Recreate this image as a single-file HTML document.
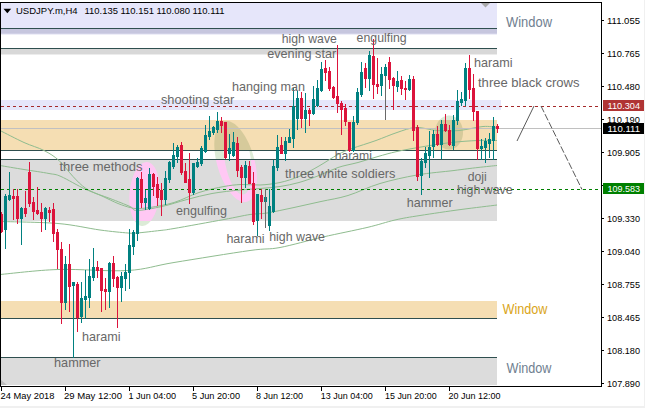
<!DOCTYPE html>
<html><head><meta charset="utf-8"><style>html,body{margin:0;padding:0;background:#fff;}svg{display:block;}</style></head>
<body><svg width="645" height="408" viewBox="0 0 645 408">
<rect x="0" y="0" width="645" height="408" fill="#ffffff"/>
<rect x="644" y="0" width="1" height="408" fill="#f0f0f0"/>
<rect x="0" y="406" width="645" height="2" fill="#f0f0f0"/>
<rect x="1" y="3" width="496" height="25" fill="#e6e6fa" />
<rect x="1" y="28" width="496" height="1" fill="#2f4f4f" />
<rect x="1" y="29" width="496" height="4" fill="#c6c6de" />
<rect x="1" y="33" width="496" height="1" fill="#d0d0e6" />
<rect x="1" y="34" width="496" height="1" fill="#eeeef8" />
<rect x="1" y="48" width="496" height="1" fill="#2f4f4f" />
<rect x="1" y="49" width="496" height="5" fill="#d8d8d8" />
<rect x="1" y="54" width="496" height="1" fill="#ececec" />
<rect x="1" y="100" width="500" height="10" fill="#e6e6fa" />
<rect x="1" y="120" width="496" height="30" fill="#f5deb3" />
<rect x="1" y="150" width="496" height="1" fill="#2f4f4f" />
<rect x="1" y="159" width="496" height="1" fill="#2f4f4f" />
<rect x="1" y="160" width="496" height="61" fill="#dcdcdc" />
<rect x="1" y="301" width="496" height="17" fill="#f5deb3" />
<rect x="1" y="318" width="496" height="1" fill="#2f4f4f" />
<rect x="1" y="357" width="496" height="1" fill="#2f4f4f" />
<rect x="1" y="358" width="496" height="27" fill="#dcdcdc" />
<polygon points="481,3 490,3 485.5,7.5" fill="#a9a9a9"/>
<polygon points="1,380 1,385 7,385" fill="#bdbdbd"/>
<defs><clipPath id="cw"><rect x="1" y="110" width="496" height="10"/><rect x="1" y="151" width="496" height="8"/><rect x="1" y="221" width="496" height="80"/></clipPath><clipPath id="ct"><rect x="1" y="120" width="496" height="30"/></clipPath><clipPath id="cg"><rect x="1" y="160" width="496" height="61"/></clipPath></defs>
<path clip-path="url(#cw)" d="M159.44,195.31 L159.23,197.39 L158.95,199.46 L158.61,201.50 L158.21,203.51 L157.75,205.48 L157.24,207.41 L156.67,209.27 L156.05,211.07 L155.38,212.80 L154.66,214.44 L153.90,216.00 L153.09,217.47 L152.26,218.83 L151.38,220.09 L150.48,221.23 L149.56,222.26 L148.61,223.17 L147.64,223.95 L146.66,224.61 L145.67,225.13 L144.68,225.52 L143.69,225.78 L142.69,225.90 L141.71,225.88 L140.74,225.72 L139.78,225.43 L138.85,225.01 L137.94,224.45 L137.06,223.77 L136.20,222.95 L135.39,222.01 L134.61,220.95 L133.88,219.78 L133.19,218.49 L132.55,217.11 L131.96,215.62 L131.43,214.04 L130.95,212.37 L130.53,210.62 L130.16,208.81 L129.86,206.93 L129.63,204.99 L129.45,203.01 L129.34,200.99 L129.30,198.94 L129.32,196.86 L129.41,194.78 L129.56,192.69 L129.77,190.61 L130.05,188.54 L130.39,186.50 L130.79,184.49 L131.25,182.52 L131.76,180.59 L132.33,178.73 L132.95,176.93 L133.62,175.20 L134.34,173.56 L135.10,172.00 L135.91,170.53 L136.74,169.17 L137.62,167.91 L138.52,166.77 L139.44,165.74 L140.39,164.83 L141.36,164.05 L142.34,163.39 L143.33,162.87 L144.32,162.48 L145.31,162.22 L146.31,162.10 L147.29,162.12 L148.26,162.28 L149.22,162.57 L150.15,162.99 L151.06,163.55 L151.94,164.23 L152.80,165.05 L153.61,165.99 L154.39,167.05 L155.12,168.22 L155.81,169.51 L156.45,170.89 L157.04,172.38 L157.57,173.96 L158.05,175.63 L158.47,177.38 L158.84,179.19 L159.14,181.07 L159.37,183.01 L159.55,184.99 L159.66,187.01 L159.70,189.06 L159.68,191.14 L159.59,193.22 Z" fill="#dcebd7" fill-rule="evenodd"/>
<path clip-path="url(#cw)" d="M253.59,156.41 L254.30,159.05 L254.93,161.70 L255.47,164.35 L255.93,166.99 L256.30,169.61 L256.58,172.19 L256.77,174.72 L256.87,177.20 L256.88,179.61 L256.80,181.95 L256.63,184.19 L256.37,186.34 L256.02,188.38 L255.58,190.31 L255.06,192.11 L254.45,193.79 L253.77,195.32 L253.00,196.71 L252.16,197.95 L251.25,199.03 L250.27,199.95 L249.23,200.71 L248.13,201.30 L246.98,201.72 L245.78,201.97 L244.54,202.04 L243.25,201.94 L241.94,201.67 L240.59,201.22 L239.23,200.61 L237.85,199.82 L236.46,198.88 L235.07,197.77 L233.68,196.51 L232.29,195.10 L230.92,193.54 L229.58,191.85 L228.25,190.02 L226.96,188.08 L225.71,186.02 L224.50,183.86 L223.33,181.60 L222.22,179.25 L221.17,176.83 L220.17,174.34 L219.25,171.80 L218.39,169.21 L217.61,166.59 L216.90,163.95 L216.27,161.30 L215.73,158.65 L215.27,156.01 L214.90,153.39 L214.62,150.81 L214.43,148.28 L214.33,145.80 L214.32,143.39 L214.40,141.05 L214.57,138.81 L214.83,136.66 L215.18,134.62 L215.62,132.69 L216.14,130.89 L216.75,129.21 L217.43,127.68 L218.20,126.29 L219.04,125.05 L219.95,123.97 L220.93,123.05 L221.97,122.29 L223.07,121.70 L224.22,121.28 L225.42,121.03 L226.66,120.96 L227.95,121.06 L229.26,121.33 L230.61,121.78 L231.97,122.39 L233.35,123.18 L234.74,124.12 L236.13,125.23 L237.52,126.49 L238.91,127.90 L240.28,129.46 L241.62,131.15 L242.95,132.98 L244.24,134.92 L245.49,136.98 L246.70,139.14 L247.87,141.40 L248.98,143.75 L250.03,146.17 L251.03,148.66 L251.95,151.20 L252.81,153.79 Z M250.34,155.97 L250.69,158.36 L250.99,160.75 L251.22,163.13 L251.40,165.49 L251.52,167.82 L251.58,170.11 L251.58,172.34 L251.51,174.51 L251.39,176.61 L251.21,178.63 L250.97,180.57 L250.67,182.40 L250.32,184.13 L249.91,185.75 L249.45,187.26 L248.93,188.63 L248.37,189.88 L247.76,190.98 L247.11,191.95 L246.41,192.77 L245.68,193.45 L244.91,193.97 L244.12,194.33 L243.29,194.54 L242.44,194.60 L241.56,194.50 L240.67,194.24 L239.77,193.83 L238.85,193.26 L237.93,192.54 L237.01,191.68 L236.09,190.67 L235.18,189.52 L234.28,188.23 L233.39,186.82 L232.51,185.28 L231.66,183.62 L230.84,181.86 L230.04,179.99 L229.27,178.03 L228.54,175.99 L227.85,173.86 L227.20,171.67 L226.60,169.42 L226.04,167.12 L225.53,164.79 L225.07,162.42 L224.66,160.03 L224.31,157.64 L224.01,155.25 L223.78,152.87 L223.60,150.51 L223.48,148.18 L223.42,145.89 L223.42,143.66 L223.49,141.49 L223.61,139.39 L223.79,137.37 L224.03,135.43 L224.33,133.60 L224.68,131.87 L225.09,130.25 L225.55,128.74 L226.07,127.37 L226.63,126.12 L227.24,125.02 L227.89,124.05 L228.59,123.23 L229.32,122.55 L230.09,122.03 L230.88,121.67 L231.71,121.46 L232.56,121.40 L233.44,121.50 L234.33,121.76 L235.23,122.17 L236.15,122.74 L237.07,123.46 L237.99,124.32 L238.91,125.33 L239.82,126.48 L240.72,127.77 L241.61,129.18 L242.49,130.72 L243.34,132.38 L244.16,134.14 L244.96,136.01 L245.73,137.97 L246.46,140.01 L247.15,142.14 L247.80,144.33 L248.40,146.58 L248.96,148.88 L249.47,151.21 L249.93,153.58 Z" fill="#dcebd7" fill-rule="evenodd"/>
<path clip-path="url(#cw)" d="M463.00,132.50 L462.97,133.61 L462.88,134.72 L462.73,135.82 L462.52,136.90 L462.26,137.96 L461.93,139.01 L461.56,140.02 L461.12,141.00 L460.64,141.94 L460.11,142.85 L459.53,143.71 L458.90,144.52 L458.23,145.28 L457.52,145.99 L456.78,146.63 L456.00,147.22 L455.19,147.75 L454.36,148.21 L453.50,148.60 L452.62,148.92 L451.73,149.17 L450.83,149.35 L449.92,149.46 L449.00,149.50 L448.08,149.46 L447.17,149.35 L446.27,149.17 L445.38,148.92 L444.50,148.60 L443.64,148.21 L442.81,147.75 L442.00,147.22 L441.22,146.63 L440.48,145.99 L439.77,145.28 L439.10,144.52 L438.47,143.71 L437.89,142.85 L437.36,141.94 L436.88,141.00 L436.44,140.02 L436.07,139.01 L435.74,137.96 L435.48,136.90 L435.27,135.82 L435.12,134.72 L435.03,133.61 L435.00,132.50 L435.03,131.39 L435.12,130.28 L435.27,129.18 L435.48,128.10 L435.74,127.04 L436.07,125.99 L436.44,124.98 L436.88,124.00 L437.36,123.06 L437.89,122.15 L438.47,121.29 L439.10,120.48 L439.77,119.72 L440.48,119.01 L441.22,118.37 L442.00,117.78 L442.81,117.25 L443.64,116.79 L444.50,116.40 L445.38,116.08 L446.27,115.83 L447.17,115.65 L448.08,115.54 L449.00,115.50 L449.92,115.54 L450.83,115.65 L451.73,115.83 L452.62,116.08 L453.50,116.40 L454.36,116.79 L455.19,117.25 L456.00,117.78 L456.78,118.37 L457.52,119.01 L458.23,119.72 L458.90,120.48 L459.53,121.29 L460.11,122.15 L460.64,123.06 L461.12,124.00 L461.56,124.98 L461.93,125.99 L462.26,127.04 L462.52,128.10 L462.73,129.18 L462.88,130.28 L462.97,131.39 Z" fill="#dcebd7" fill-rule="evenodd"/>
<path clip-path="url(#ct)" d="M159.44,195.31 L159.23,197.39 L158.95,199.46 L158.61,201.50 L158.21,203.51 L157.75,205.48 L157.24,207.41 L156.67,209.27 L156.05,211.07 L155.38,212.80 L154.66,214.44 L153.90,216.00 L153.09,217.47 L152.26,218.83 L151.38,220.09 L150.48,221.23 L149.56,222.26 L148.61,223.17 L147.64,223.95 L146.66,224.61 L145.67,225.13 L144.68,225.52 L143.69,225.78 L142.69,225.90 L141.71,225.88 L140.74,225.72 L139.78,225.43 L138.85,225.01 L137.94,224.45 L137.06,223.77 L136.20,222.95 L135.39,222.01 L134.61,220.95 L133.88,219.78 L133.19,218.49 L132.55,217.11 L131.96,215.62 L131.43,214.04 L130.95,212.37 L130.53,210.62 L130.16,208.81 L129.86,206.93 L129.63,204.99 L129.45,203.01 L129.34,200.99 L129.30,198.94 L129.32,196.86 L129.41,194.78 L129.56,192.69 L129.77,190.61 L130.05,188.54 L130.39,186.50 L130.79,184.49 L131.25,182.52 L131.76,180.59 L132.33,178.73 L132.95,176.93 L133.62,175.20 L134.34,173.56 L135.10,172.00 L135.91,170.53 L136.74,169.17 L137.62,167.91 L138.52,166.77 L139.44,165.74 L140.39,164.83 L141.36,164.05 L142.34,163.39 L143.33,162.87 L144.32,162.48 L145.31,162.22 L146.31,162.10 L147.29,162.12 L148.26,162.28 L149.22,162.57 L150.15,162.99 L151.06,163.55 L151.94,164.23 L152.80,165.05 L153.61,165.99 L154.39,167.05 L155.12,168.22 L155.81,169.51 L156.45,170.89 L157.04,172.38 L157.57,173.96 L158.05,175.63 L158.47,177.38 L158.84,179.19 L159.14,181.07 L159.37,183.01 L159.55,184.99 L159.66,187.01 L159.70,189.06 L159.68,191.14 L159.59,193.22 Z" fill="#d6ca9b" fill-rule="evenodd"/>
<path clip-path="url(#ct)" d="M253.59,156.41 L254.30,159.05 L254.93,161.70 L255.47,164.35 L255.93,166.99 L256.30,169.61 L256.58,172.19 L256.77,174.72 L256.87,177.20 L256.88,179.61 L256.80,181.95 L256.63,184.19 L256.37,186.34 L256.02,188.38 L255.58,190.31 L255.06,192.11 L254.45,193.79 L253.77,195.32 L253.00,196.71 L252.16,197.95 L251.25,199.03 L250.27,199.95 L249.23,200.71 L248.13,201.30 L246.98,201.72 L245.78,201.97 L244.54,202.04 L243.25,201.94 L241.94,201.67 L240.59,201.22 L239.23,200.61 L237.85,199.82 L236.46,198.88 L235.07,197.77 L233.68,196.51 L232.29,195.10 L230.92,193.54 L229.58,191.85 L228.25,190.02 L226.96,188.08 L225.71,186.02 L224.50,183.86 L223.33,181.60 L222.22,179.25 L221.17,176.83 L220.17,174.34 L219.25,171.80 L218.39,169.21 L217.61,166.59 L216.90,163.95 L216.27,161.30 L215.73,158.65 L215.27,156.01 L214.90,153.39 L214.62,150.81 L214.43,148.28 L214.33,145.80 L214.32,143.39 L214.40,141.05 L214.57,138.81 L214.83,136.66 L215.18,134.62 L215.62,132.69 L216.14,130.89 L216.75,129.21 L217.43,127.68 L218.20,126.29 L219.04,125.05 L219.95,123.97 L220.93,123.05 L221.97,122.29 L223.07,121.70 L224.22,121.28 L225.42,121.03 L226.66,120.96 L227.95,121.06 L229.26,121.33 L230.61,121.78 L231.97,122.39 L233.35,123.18 L234.74,124.12 L236.13,125.23 L237.52,126.49 L238.91,127.90 L240.28,129.46 L241.62,131.15 L242.95,132.98 L244.24,134.92 L245.49,136.98 L246.70,139.14 L247.87,141.40 L248.98,143.75 L250.03,146.17 L251.03,148.66 L251.95,151.20 L252.81,153.79 Z" fill="#d6ca9b" fill-rule="evenodd"/>
<path clip-path="url(#ct)" d="M463.00,132.50 L462.97,133.61 L462.88,134.72 L462.73,135.82 L462.52,136.90 L462.26,137.96 L461.93,139.01 L461.56,140.02 L461.12,141.00 L460.64,141.94 L460.11,142.85 L459.53,143.71 L458.90,144.52 L458.23,145.28 L457.52,145.99 L456.78,146.63 L456.00,147.22 L455.19,147.75 L454.36,148.21 L453.50,148.60 L452.62,148.92 L451.73,149.17 L450.83,149.35 L449.92,149.46 L449.00,149.50 L448.08,149.46 L447.17,149.35 L446.27,149.17 L445.38,148.92 L444.50,148.60 L443.64,148.21 L442.81,147.75 L442.00,147.22 L441.22,146.63 L440.48,145.99 L439.77,145.28 L439.10,144.52 L438.47,143.71 L437.89,142.85 L437.36,141.94 L436.88,141.00 L436.44,140.02 L436.07,139.01 L435.74,137.96 L435.48,136.90 L435.27,135.82 L435.12,134.72 L435.03,133.61 L435.00,132.50 L435.03,131.39 L435.12,130.28 L435.27,129.18 L435.48,128.10 L435.74,127.04 L436.07,125.99 L436.44,124.98 L436.88,124.00 L437.36,123.06 L437.89,122.15 L438.47,121.29 L439.10,120.48 L439.77,119.72 L440.48,119.01 L441.22,118.37 L442.00,117.78 L442.81,117.25 L443.64,116.79 L444.50,116.40 L445.38,116.08 L446.27,115.83 L447.17,115.65 L448.08,115.54 L449.00,115.50 L449.92,115.54 L450.83,115.65 L451.73,115.83 L452.62,116.08 L453.50,116.40 L454.36,116.79 L455.19,117.25 L456.00,117.78 L456.78,118.37 L457.52,119.01 L458.23,119.72 L458.90,120.48 L459.53,121.29 L460.11,122.15 L460.64,123.06 L461.12,124.00 L461.56,124.98 L461.93,125.99 L462.26,127.04 L462.52,128.10 L462.73,129.18 L462.88,130.28 L462.97,131.39 Z" fill="#d6ca9b" fill-rule="evenodd"/>
<path clip-path="url(#cg)" d="M159.44,195.31 L159.23,197.39 L158.95,199.46 L158.61,201.50 L158.21,203.51 L157.75,205.48 L157.24,207.41 L156.67,209.27 L156.05,211.07 L155.38,212.80 L154.66,214.44 L153.90,216.00 L153.09,217.47 L152.26,218.83 L151.38,220.09 L150.48,221.23 L149.56,222.26 L148.61,223.17 L147.64,223.95 L146.66,224.61 L145.67,225.13 L144.68,225.52 L143.69,225.78 L142.69,225.90 L141.71,225.88 L140.74,225.72 L139.78,225.43 L138.85,225.01 L137.94,224.45 L137.06,223.77 L136.20,222.95 L135.39,222.01 L134.61,220.95 L133.88,219.78 L133.19,218.49 L132.55,217.11 L131.96,215.62 L131.43,214.04 L130.95,212.37 L130.53,210.62 L130.16,208.81 L129.86,206.93 L129.63,204.99 L129.45,203.01 L129.34,200.99 L129.30,198.94 L129.32,196.86 L129.41,194.78 L129.56,192.69 L129.77,190.61 L130.05,188.54 L130.39,186.50 L130.79,184.49 L131.25,182.52 L131.76,180.59 L132.33,178.73 L132.95,176.93 L133.62,175.20 L134.34,173.56 L135.10,172.00 L135.91,170.53 L136.74,169.17 L137.62,167.91 L138.52,166.77 L139.44,165.74 L140.39,164.83 L141.36,164.05 L142.34,163.39 L143.33,162.87 L144.32,162.48 L145.31,162.22 L146.31,162.10 L147.29,162.12 L148.26,162.28 L149.22,162.57 L150.15,162.99 L151.06,163.55 L151.94,164.23 L152.80,165.05 L153.61,165.99 L154.39,167.05 L155.12,168.22 L155.81,169.51 L156.45,170.89 L157.04,172.38 L157.57,173.96 L158.05,175.63 L158.47,177.38 L158.84,179.19 L159.14,181.07 L159.37,183.01 L159.55,184.99 L159.66,187.01 L159.70,189.06 L159.68,191.14 L159.59,193.22 Z" fill="#ffc8f4" fill-rule="evenodd"/>
<path clip-path="url(#cg)" d="M253.59,156.41 L254.30,159.05 L254.93,161.70 L255.47,164.35 L255.93,166.99 L256.30,169.61 L256.58,172.19 L256.77,174.72 L256.87,177.20 L256.88,179.61 L256.80,181.95 L256.63,184.19 L256.37,186.34 L256.02,188.38 L255.58,190.31 L255.06,192.11 L254.45,193.79 L253.77,195.32 L253.00,196.71 L252.16,197.95 L251.25,199.03 L250.27,199.95 L249.23,200.71 L248.13,201.30 L246.98,201.72 L245.78,201.97 L244.54,202.04 L243.25,201.94 L241.94,201.67 L240.59,201.22 L239.23,200.61 L237.85,199.82 L236.46,198.88 L235.07,197.77 L233.68,196.51 L232.29,195.10 L230.92,193.54 L229.58,191.85 L228.25,190.02 L226.96,188.08 L225.71,186.02 L224.50,183.86 L223.33,181.60 L222.22,179.25 L221.17,176.83 L220.17,174.34 L219.25,171.80 L218.39,169.21 L217.61,166.59 L216.90,163.95 L216.27,161.30 L215.73,158.65 L215.27,156.01 L214.90,153.39 L214.62,150.81 L214.43,148.28 L214.33,145.80 L214.32,143.39 L214.40,141.05 L214.57,138.81 L214.83,136.66 L215.18,134.62 L215.62,132.69 L216.14,130.89 L216.75,129.21 L217.43,127.68 L218.20,126.29 L219.04,125.05 L219.95,123.97 L220.93,123.05 L221.97,122.29 L223.07,121.70 L224.22,121.28 L225.42,121.03 L226.66,120.96 L227.95,121.06 L229.26,121.33 L230.61,121.78 L231.97,122.39 L233.35,123.18 L234.74,124.12 L236.13,125.23 L237.52,126.49 L238.91,127.90 L240.28,129.46 L241.62,131.15 L242.95,132.98 L244.24,134.92 L245.49,136.98 L246.70,139.14 L247.87,141.40 L248.98,143.75 L250.03,146.17 L251.03,148.66 L251.95,151.20 L252.81,153.79 Z M250.34,155.97 L250.69,158.36 L250.99,160.75 L251.22,163.13 L251.40,165.49 L251.52,167.82 L251.58,170.11 L251.58,172.34 L251.51,174.51 L251.39,176.61 L251.21,178.63 L250.97,180.57 L250.67,182.40 L250.32,184.13 L249.91,185.75 L249.45,187.26 L248.93,188.63 L248.37,189.88 L247.76,190.98 L247.11,191.95 L246.41,192.77 L245.68,193.45 L244.91,193.97 L244.12,194.33 L243.29,194.54 L242.44,194.60 L241.56,194.50 L240.67,194.24 L239.77,193.83 L238.85,193.26 L237.93,192.54 L237.01,191.68 L236.09,190.67 L235.18,189.52 L234.28,188.23 L233.39,186.82 L232.51,185.28 L231.66,183.62 L230.84,181.86 L230.04,179.99 L229.27,178.03 L228.54,175.99 L227.85,173.86 L227.20,171.67 L226.60,169.42 L226.04,167.12 L225.53,164.79 L225.07,162.42 L224.66,160.03 L224.31,157.64 L224.01,155.25 L223.78,152.87 L223.60,150.51 L223.48,148.18 L223.42,145.89 L223.42,143.66 L223.49,141.49 L223.61,139.39 L223.79,137.37 L224.03,135.43 L224.33,133.60 L224.68,131.87 L225.09,130.25 L225.55,128.74 L226.07,127.37 L226.63,126.12 L227.24,125.02 L227.89,124.05 L228.59,123.23 L229.32,122.55 L230.09,122.03 L230.88,121.67 L231.71,121.46 L232.56,121.40 L233.44,121.50 L234.33,121.76 L235.23,122.17 L236.15,122.74 L237.07,123.46 L237.99,124.32 L238.91,125.33 L239.82,126.48 L240.72,127.77 L241.61,129.18 L242.49,130.72 L243.34,132.38 L244.16,134.14 L244.96,136.01 L245.73,137.97 L246.46,140.01 L247.15,142.14 L247.80,144.33 L248.40,146.58 L248.96,148.88 L249.47,151.21 L249.93,153.58 Z" fill="#ffc8f4" fill-rule="evenodd"/>
<path clip-path="url(#cg)" d="M463.00,132.50 L462.97,133.61 L462.88,134.72 L462.73,135.82 L462.52,136.90 L462.26,137.96 L461.93,139.01 L461.56,140.02 L461.12,141.00 L460.64,141.94 L460.11,142.85 L459.53,143.71 L458.90,144.52 L458.23,145.28 L457.52,145.99 L456.78,146.63 L456.00,147.22 L455.19,147.75 L454.36,148.21 L453.50,148.60 L452.62,148.92 L451.73,149.17 L450.83,149.35 L449.92,149.46 L449.00,149.50 L448.08,149.46 L447.17,149.35 L446.27,149.17 L445.38,148.92 L444.50,148.60 L443.64,148.21 L442.81,147.75 L442.00,147.22 L441.22,146.63 L440.48,145.99 L439.77,145.28 L439.10,144.52 L438.47,143.71 L437.89,142.85 L437.36,141.94 L436.88,141.00 L436.44,140.02 L436.07,139.01 L435.74,137.96 L435.48,136.90 L435.27,135.82 L435.12,134.72 L435.03,133.61 L435.00,132.50 L435.03,131.39 L435.12,130.28 L435.27,129.18 L435.48,128.10 L435.74,127.04 L436.07,125.99 L436.44,124.98 L436.88,124.00 L437.36,123.06 L437.89,122.15 L438.47,121.29 L439.10,120.48 L439.77,119.72 L440.48,119.01 L441.22,118.37 L442.00,117.78 L442.81,117.25 L443.64,116.79 L444.50,116.40 L445.38,116.08 L446.27,115.83 L447.17,115.65 L448.08,115.54 L449.00,115.50 L449.92,115.54 L450.83,115.65 L451.73,115.83 L452.62,116.08 L453.50,116.40 L454.36,116.79 L455.19,117.25 L456.00,117.78 L456.78,118.37 L457.52,119.01 L458.23,119.72 L458.90,120.48 L459.53,121.29 L460.11,122.15 L460.64,123.06 L461.12,124.00 L461.56,124.98 L461.93,125.99 L462.26,127.04 L462.52,128.10 L462.73,129.18 L462.88,130.28 L462.97,131.39 Z" fill="#ffc8f4" fill-rule="evenodd"/>
<rect x="1" y="150" width="496" height="1" fill="#2f4f4f" />
<rect x="1" y="159" width="496" height="1" fill="#2f4f4f" />
<path d="M0,130.5 C4.0,132.5 16.7,139.2 24,142.5 C31.3,145.8 38.2,147.5 44,150.5 C49.8,153.5 54.2,156.2 59,160.5 C63.8,164.8 68.5,171.8 73,176.5 C77.5,181.2 81.0,185.2 86,188.5 C91.0,191.8 97.7,194.0 103,196.5 C108.3,199.0 113.5,201.7 118,203.5 C122.5,205.3 126.8,206.7 130,207.5 C133.2,208.3 133.7,208.5 137,208.5 C140.3,208.5 143.8,208.5 150,207.5 C156.2,206.5 165.8,205.0 174,202.5 C182.2,200.0 190.7,195.2 199,192.5 C207.3,189.8 217.0,187.8 224,186.5 C231.0,185.2 235.0,184.8 241,184.5 C247.0,184.2 253.5,185.3 260,185.0 C266.5,184.7 273.5,183.9 280,182.5 C286.5,181.1 292.5,179.2 299,176.5 C305.5,173.8 312.5,169.7 319,166.0 C325.5,162.3 332.5,157.4 338,154.5 C343.5,151.6 345.7,150.8 352,148.5 C358.3,146.2 368.5,143.2 376,140.5 C383.5,137.8 390.3,134.7 397,132.5 C403.7,130.3 409.3,127.8 416,127.5 C422.7,127.2 429.8,130.0 437,130.5 C444.2,131.0 451.3,131.2 459,130.5 C466.7,129.8 476.7,127.0 483,126.5 C489.3,126.0 494.7,127.3 497,127.5" fill="none" stroke="#8fbc8f" stroke-width="1"/>
<path d="M0,165.5 C4.0,166.2 15.8,168.2 24,169.5 C32.2,170.8 42.8,172.3 49,173.5 C55.2,174.7 54.8,173.8 61,176.5 C67.2,179.2 77.8,185.8 86,189.5 C94.2,193.2 102.7,195.7 110,198.5 C117.3,201.3 125.5,204.5 130,206.5 C134.5,208.5 131.7,210.5 137,210.5 C142.3,210.5 153.7,208.3 162,206.5 C170.3,204.7 178.7,201.7 187,199.5 C195.3,197.3 203.2,195.1 212,193.5 C220.8,191.9 232.0,190.8 240,190.0 C248.0,189.2 253.3,189.1 260,188.5 C266.7,187.9 273.5,187.5 280,186.5 C286.5,185.5 292.5,184.3 299,182.5 C305.5,180.7 312.5,178.0 319,175.5 C325.5,173.0 331.5,169.7 338,167.5 C344.5,165.3 351.3,164.3 358,162.5 C364.7,160.7 371.5,158.3 378,156.5 C384.5,154.7 389.3,153.2 397,151.5 C404.7,149.8 415.0,148.0 424,146.5 C433.0,145.0 442.0,143.5 451,142.5 C460.0,141.5 470.3,140.8 478,140.5 C485.7,140.2 493.8,140.5 497,140.5" fill="none" stroke="#8fbc8f" stroke-width="1"/>
<path d="M0,221.5 C9.7,221.8 41.3,222.1 58,223.5 C74.7,224.9 88.3,228.4 100,230.0 C111.7,231.6 121.8,232.5 128,233.0 C134.2,233.5 131.7,233.4 137,233.0 C142.3,232.6 153.8,231.2 160,230.5 C166.2,229.8 163.3,230.3 174,228.5 C184.7,226.7 211.3,221.8 224,219.5 C236.7,217.2 242.8,215.6 250,214.5 C257.2,213.4 259.7,214.2 267,213.0 C274.3,211.8 285.0,209.4 294,207.5 C303.0,205.6 312.0,203.5 321,201.5 C330.0,199.5 338.2,198.5 348,195.5 C357.8,192.5 368.5,186.9 380,183.5 C391.5,180.1 404.7,177.2 417,175.0 C429.3,172.8 443.8,171.8 454,170.5 C464.2,169.2 470.8,168.3 478,167.5 C485.2,166.7 493.8,165.8 497,165.5" fill="none" stroke="#8fbc8f" stroke-width="1"/>
<path d="M0,274.5 C9.7,273.7 36.7,270.2 58,269.5 C79.3,268.8 108.7,271.7 128,270.5 C147.3,269.3 153.7,265.8 174,262.5 C194.3,259.2 232.3,253.0 250,250.5 C267.7,248.0 267.8,249.8 280,247.5 C292.2,245.2 308.5,240.3 323,237.0 C337.5,233.7 355.0,230.3 367,227.5 C379.0,224.7 386.2,222.0 395,220.0 C403.8,218.0 409.0,217.2 420,215.5 C431.0,213.8 448.2,211.2 461,209.5 C473.8,207.8 491.0,205.8 497,205.0" fill="none" stroke="#8fbc8f" stroke-width="1"/>
<line x1="1" y1="106.5" x2="600" y2="106.5" stroke="#a52a2a" stroke-width="1" stroke-dasharray="3 3" shape-rendering="crispEdges"/>
<line x1="1" y1="189.5" x2="600" y2="189.5" stroke="#008000" stroke-width="1" stroke-dasharray="3 3" shape-rendering="crispEdges"/>
<rect x="1" y="128" width="600" height="1" fill="#c0c0c0"/>
<g shape-rendering="crispEdges"><rect x="1" y="212" width="1" height="21" fill="#dc143c"/><rect x="0" y="214" width="3" height="18" fill="#dc143c"/><rect x="5" y="194" width="1" height="55" fill="#008080"/><rect x="4" y="196" width="3" height="34" fill="#008080"/><rect x="9" y="172" width="1" height="29" fill="#008080"/><rect x="8" y="195" width="3" height="5" fill="#008080"/><rect x="13" y="189" width="1" height="31" fill="#dc143c"/><rect x="12" y="196" width="3" height="3" fill="#dc143c"/><rect x="17" y="189" width="1" height="35" fill="#dc143c"/><rect x="16" y="196" width="3" height="23" fill="#dc143c"/><rect x="21" y="207" width="1" height="38" fill="#008080"/><rect x="20" y="208" width="3" height="11" fill="#008080"/><rect x="25" y="191" width="1" height="26" fill="#dc143c"/><rect x="24" y="208" width="3" height="6" fill="#dc143c"/><rect x="29" y="162" width="1" height="45" fill="#dc143c"/><rect x="28" y="172" width="3" height="32" fill="#dc143c"/><rect x="33" y="197" width="1" height="23" fill="#dc143c"/><rect x="32" y="202" width="3" height="10" fill="#dc143c"/><rect x="37" y="187" width="1" height="28" fill="#dc143c"/><rect x="36" y="210" width="3" height="4" fill="#dc143c"/><rect x="41" y="203" width="1" height="29" fill="#dc143c"/><rect x="40" y="212" width="3" height="7" fill="#dc143c"/><rect x="45" y="207" width="1" height="23" fill="#008080"/><rect x="44" y="208" width="3" height="11" fill="#008080"/><rect x="49" y="207" width="1" height="15" fill="#dc143c"/><rect x="48" y="210" width="3" height="3" fill="#dc143c"/><rect x="53" y="203" width="1" height="39" fill="#dc143c"/><rect x="52" y="209" width="3" height="25" fill="#dc143c"/><rect x="57" y="229" width="1" height="40" fill="#dc143c"/><rect x="56" y="232" width="3" height="18" fill="#dc143c"/><rect x="61" y="242" width="1" height="82" fill="#dc143c"/><rect x="60" y="249" width="3" height="54" fill="#dc143c"/><rect x="65" y="256" width="1" height="54" fill="#008080"/><rect x="64" y="264" width="3" height="39" fill="#008080"/><rect x="69" y="244" width="1" height="68" fill="#dc143c"/><rect x="68" y="264" width="3" height="23" fill="#dc143c"/><rect x="73" y="282" width="1" height="76" fill="#008080"/><rect x="72" y="282" width="3" height="4" fill="#008080"/><rect x="77" y="282" width="1" height="50" fill="#dc143c"/><rect x="76" y="284" width="3" height="34" fill="#dc143c"/><rect x="81" y="282" width="1" height="41" fill="#008080"/><rect x="80" y="298" width="3" height="19" fill="#008080"/><rect x="85" y="270" width="1" height="49" fill="#008080"/><rect x="84" y="296" width="3" height="4" fill="#008080"/><rect x="89" y="259" width="1" height="49" fill="#008080"/><rect x="88" y="276" width="3" height="22" fill="#008080"/><rect x="93" y="248" width="1" height="33" fill="#008080"/><rect x="92" y="267" width="3" height="11" fill="#008080"/><rect x="97" y="261" width="1" height="17" fill="#dc143c"/><rect x="96" y="267" width="3" height="4" fill="#dc143c"/><rect x="101" y="268" width="1" height="44" fill="#dc143c"/><rect x="100" y="268" width="3" height="23" fill="#dc143c"/><rect x="105" y="278" width="1" height="32" fill="#dc143c"/><rect x="104" y="289" width="3" height="3" fill="#dc143c"/><rect x="109" y="262" width="1" height="46" fill="#008080"/><rect x="108" y="263" width="3" height="29" fill="#008080"/><rect x="113" y="256" width="1" height="31" fill="#dc143c"/><rect x="112" y="263" width="3" height="16" fill="#dc143c"/><rect x="117" y="276" width="1" height="52" fill="#dc143c"/><rect x="116" y="277" width="3" height="11" fill="#dc143c"/><rect x="121" y="272" width="1" height="30" fill="#008080"/><rect x="120" y="276" width="3" height="12" fill="#008080"/><rect x="125" y="264" width="1" height="27" fill="#008080"/><rect x="124" y="272" width="3" height="7" fill="#008080"/><rect x="129" y="229" width="1" height="60" fill="#008080"/><rect x="128" y="245" width="3" height="28" fill="#008080"/><rect x="133" y="230" width="1" height="25" fill="#008080"/><rect x="132" y="232" width="3" height="15" fill="#008080"/><rect x="137" y="177" width="1" height="64" fill="#008080"/><rect x="136" y="178" width="3" height="56" fill="#008080"/><rect x="141" y="172" width="1" height="36" fill="#dc143c"/><rect x="140" y="179" width="3" height="24" fill="#dc143c"/><rect x="145" y="190" width="1" height="20" fill="#008080"/><rect x="144" y="198" width="3" height="5" fill="#008080"/><rect x="149" y="168" width="1" height="42" fill="#008080"/><rect x="148" y="174" width="3" height="35" fill="#008080"/><rect x="153" y="173" width="1" height="23" fill="#dc143c"/><rect x="152" y="174" width="3" height="13" fill="#dc143c"/><rect x="157" y="177" width="1" height="29" fill="#dc143c"/><rect x="156" y="184" width="3" height="14" fill="#dc143c"/><rect x="161" y="183" width="1" height="33" fill="#dc143c"/><rect x="160" y="190" width="3" height="10" fill="#dc143c"/><rect x="165" y="171" width="1" height="34" fill="#008080"/><rect x="164" y="178" width="3" height="22" fill="#008080"/><rect x="169" y="161" width="1" height="22" fill="#008080"/><rect x="168" y="162" width="3" height="18" fill="#008080"/><rect x="173" y="143" width="1" height="26" fill="#008080"/><rect x="172" y="155" width="3" height="12" fill="#008080"/><rect x="177" y="145" width="1" height="18" fill="#008080"/><rect x="176" y="147" width="3" height="10" fill="#008080"/><rect x="181" y="142" width="1" height="33" fill="#dc143c"/><rect x="180" y="145" width="3" height="28" fill="#dc143c"/><rect x="185" y="163" width="1" height="20" fill="#dc143c"/><rect x="184" y="171" width="3" height="12" fill="#dc143c"/><rect x="189" y="153" width="1" height="51" fill="#dc143c"/><rect x="188" y="179" width="3" height="14" fill="#dc143c"/><rect x="193" y="163" width="1" height="32" fill="#008080"/><rect x="192" y="163" width="3" height="30" fill="#008080"/><rect x="197" y="158" width="1" height="10" fill="#008080"/><rect x="196" y="162" width="3" height="5" fill="#008080"/><rect x="201" y="146" width="1" height="20" fill="#008080"/><rect x="200" y="148" width="3" height="16" fill="#008080"/><rect x="205" y="125" width="1" height="28" fill="#008080"/><rect x="204" y="135" width="3" height="17" fill="#008080"/><rect x="209" y="116" width="1" height="24" fill="#008080"/><rect x="208" y="131" width="3" height="6" fill="#008080"/><rect x="213" y="126" width="1" height="9" fill="#008080"/><rect x="212" y="127" width="3" height="6" fill="#008080"/><rect x="217" y="112" width="1" height="21" fill="#008080"/><rect x="216" y="121" width="3" height="9" fill="#008080"/><rect x="221" y="117" width="1" height="16" fill="#dc143c"/><rect x="220" y="121" width="3" height="5" fill="#dc143c"/><rect x="225" y="122" width="1" height="37" fill="#dc143c"/><rect x="224" y="122" width="3" height="36" fill="#dc143c"/><rect x="229" y="134" width="1" height="27" fill="#008080"/><rect x="228" y="148" width="3" height="6" fill="#008080"/><rect x="233" y="132" width="1" height="25" fill="#008080"/><rect x="232" y="142" width="3" height="14" fill="#008080"/><rect x="237" y="137" width="1" height="40" fill="#dc143c"/><rect x="236" y="143" width="3" height="28" fill="#dc143c"/><rect x="241" y="165" width="1" height="38" fill="#dc143c"/><rect x="240" y="167" width="3" height="11" fill="#dc143c"/><rect x="245" y="161" width="1" height="27" fill="#008080"/><rect x="244" y="165" width="3" height="13" fill="#008080"/><rect x="249" y="161" width="1" height="23" fill="#dc143c"/><rect x="248" y="166" width="3" height="18" fill="#dc143c"/><rect x="253" y="172" width="1" height="53" fill="#dc143c"/><rect x="252" y="183" width="3" height="39" fill="#dc143c"/><rect x="257" y="194" width="1" height="42" fill="#008080"/><rect x="256" y="194" width="3" height="27" fill="#008080"/><rect x="261" y="189" width="1" height="30" fill="#dc143c"/><rect x="260" y="195" width="3" height="7" fill="#dc143c"/><rect x="265" y="189" width="1" height="39" fill="#008080"/><rect x="264" y="197" width="3" height="5" fill="#008080"/><rect x="269" y="189" width="1" height="42" fill="#008080"/><rect x="268" y="206" width="3" height="20" fill="#008080"/><rect x="273" y="160" width="1" height="53" fill="#008080"/><rect x="272" y="166" width="3" height="46" fill="#008080"/><rect x="277" y="135" width="1" height="36" fill="#008080"/><rect x="276" y="147" width="3" height="21" fill="#008080"/><rect x="281" y="137" width="1" height="17" fill="#dc143c"/><rect x="280" y="145" width="3" height="9" fill="#dc143c"/><rect x="285" y="137" width="1" height="24" fill="#008080"/><rect x="284" y="141" width="3" height="13" fill="#008080"/><rect x="289" y="129" width="1" height="14" fill="#008080"/><rect x="288" y="137" width="3" height="6" fill="#008080"/><rect x="293" y="88" width="1" height="60" fill="#008080"/><rect x="292" y="106" width="3" height="33" fill="#008080"/><rect x="297" y="91" width="1" height="39" fill="#008080"/><rect x="296" y="98" width="3" height="21" fill="#008080"/><rect x="301" y="92" width="1" height="36" fill="#dc143c"/><rect x="300" y="98" width="3" height="21" fill="#dc143c"/><rect x="305" y="93" width="1" height="40" fill="#008080"/><rect x="304" y="110" width="3" height="9" fill="#008080"/><rect x="309" y="108" width="1" height="18" fill="#dc143c"/><rect x="308" y="110" width="3" height="4" fill="#dc143c"/><rect x="313" y="86" width="1" height="29" fill="#008080"/><rect x="312" y="99" width="3" height="15" fill="#008080"/><rect x="317" y="80" width="1" height="27" fill="#008080"/><rect x="316" y="88" width="3" height="18" fill="#008080"/><rect x="321" y="62" width="1" height="30" fill="#008080"/><rect x="320" y="69" width="3" height="22" fill="#008080"/><rect x="325" y="60" width="1" height="21" fill="#dc143c"/><rect x="324" y="68" width="3" height="5" fill="#dc143c"/><rect x="329" y="67" width="1" height="24" fill="#dc143c"/><rect x="328" y="71" width="3" height="18" fill="#dc143c"/><rect x="333" y="86" width="1" height="13" fill="#dc143c"/><rect x="332" y="87" width="3" height="11" fill="#dc143c"/><rect x="337" y="45" width="1" height="68" fill="#dc143c"/><rect x="336" y="96" width="3" height="8" fill="#dc143c"/><rect x="341" y="101" width="1" height="34" fill="#dc143c"/><rect x="340" y="103" width="3" height="7" fill="#dc143c"/><rect x="345" y="104" width="1" height="22" fill="#dc143c"/><rect x="344" y="108" width="3" height="14" fill="#dc143c"/><rect x="349" y="122" width="1" height="30" fill="#dc143c"/><rect x="348" y="122" width="3" height="29" fill="#dc143c"/><rect x="353" y="116" width="1" height="36" fill="#008080"/><rect x="352" y="122" width="3" height="29" fill="#008080"/><rect x="357" y="88" width="1" height="37" fill="#008080"/><rect x="356" y="92" width="3" height="31" fill="#008080"/><rect x="361" y="62" width="1" height="35" fill="#008080"/><rect x="360" y="72" width="3" height="23" fill="#008080"/><rect x="365" y="63" width="1" height="25" fill="#dc143c"/><rect x="364" y="68" width="3" height="11" fill="#dc143c"/><rect x="369" y="51" width="1" height="40" fill="#008080"/><rect x="368" y="55" width="3" height="24" fill="#008080"/><rect x="373" y="39" width="1" height="60" fill="#dc143c"/><rect x="372" y="56" width="3" height="29" fill="#dc143c"/><rect x="377" y="58" width="1" height="36" fill="#dc143c"/><rect x="376" y="84" width="3" height="3" fill="#dc143c"/><rect x="381" y="67" width="1" height="29" fill="#008080"/><rect x="380" y="74" width="3" height="12" fill="#008080"/><rect x="385" y="64" width="1" height="13" fill="#008080"/><rect x="384" y="67" width="3" height="9" fill="#008080"/><rect x="389" y="57" width="1" height="32" fill="#dc143c"/><rect x="388" y="62" width="3" height="18" fill="#dc143c"/><rect x="393" y="77" width="1" height="33" fill="#dc143c"/><rect x="392" y="78" width="3" height="8" fill="#dc143c"/><rect x="397" y="71" width="1" height="21" fill="#008080"/><rect x="396" y="81" width="3" height="6" fill="#008080"/><rect x="401" y="76" width="1" height="19" fill="#dc143c"/><rect x="400" y="80" width="3" height="9" fill="#dc143c"/><rect x="405" y="81" width="1" height="19" fill="#dc143c"/><rect x="404" y="88" width="3" height="2" fill="#dc143c"/><rect x="409" y="75" width="1" height="16" fill="#008080"/><rect x="408" y="79" width="3" height="11" fill="#008080"/><rect x="413" y="76" width="1" height="65" fill="#dc143c"/><rect x="412" y="79" width="3" height="52" fill="#dc143c"/><rect x="417" y="125" width="1" height="56" fill="#dc143c"/><rect x="416" y="127" width="3" height="50" fill="#dc143c"/><rect x="421" y="158" width="1" height="37" fill="#008080"/><rect x="420" y="161" width="3" height="15" fill="#008080"/><rect x="425" y="147" width="1" height="21" fill="#008080"/><rect x="424" y="153" width="3" height="10" fill="#008080"/><rect x="429" y="131" width="1" height="47" fill="#008080"/><rect x="428" y="147" width="3" height="9" fill="#008080"/><rect x="433" y="130" width="1" height="28" fill="#008080"/><rect x="432" y="134" width="3" height="13" fill="#008080"/><rect x="437" y="126" width="1" height="20" fill="#dc143c"/><rect x="436" y="134" width="3" height="11" fill="#dc143c"/><rect x="441" y="120" width="1" height="39" fill="#008080"/><rect x="440" y="124" width="3" height="21" fill="#008080"/><rect x="445" y="114" width="1" height="18" fill="#dc143c"/><rect x="444" y="124" width="3" height="7" fill="#dc143c"/><rect x="449" y="125" width="1" height="21" fill="#dc143c"/><rect x="448" y="130" width="3" height="15" fill="#dc143c"/><rect x="453" y="115" width="1" height="35" fill="#008080"/><rect x="452" y="120" width="3" height="26" fill="#008080"/><rect x="457" y="90" width="1" height="35" fill="#008080"/><rect x="456" y="101" width="3" height="20" fill="#008080"/><rect x="461" y="92" width="1" height="14" fill="#008080"/><rect x="460" y="99" width="3" height="4" fill="#008080"/><rect x="465" y="63" width="1" height="43" fill="#008080"/><rect x="464" y="68" width="3" height="33" fill="#008080"/><rect x="469" y="55" width="1" height="44" fill="#dc143c"/><rect x="468" y="68" width="3" height="22" fill="#dc143c"/><rect x="473" y="74" width="1" height="47" fill="#dc143c"/><rect x="472" y="88" width="3" height="24" fill="#dc143c"/><rect x="477" y="111" width="1" height="49" fill="#dc143c"/><rect x="476" y="111" width="3" height="38" fill="#dc143c"/><rect x="481" y="139" width="1" height="21" fill="#008080"/><rect x="480" y="146" width="3" height="3" fill="#008080"/><rect x="485" y="138" width="1" height="25" fill="#008080"/><rect x="484" y="141" width="3" height="7" fill="#008080"/><rect x="489" y="133" width="1" height="25" fill="#008080"/><rect x="488" y="139" width="3" height="5" fill="#008080"/><rect x="493" y="117" width="1" height="43" fill="#008080"/><rect x="492" y="126" width="3" height="15" fill="#008080"/><rect x="497" y="124" width="1" height="9" fill="#dc143c"/><rect x="496" y="126" width="3" height="3" fill="#dc143c"/></g>
<rect x="385" y="76" width="1" height="44" fill="#696969"/>
<rect x="265" y="189" width="1" height="39" fill="#696969"/>
<line x1="517" y1="141" x2="534" y2="106" stroke="#5a5a5a" stroke-width="1"/>
<line x1="541" y1="106" x2="582" y2="189.5" stroke="#5a5a5a" stroke-width="1" stroke-dasharray="7 2"/>
<text x="281.8" y="43" font-family="&quot;Liberation Sans&quot;, sans-serif" font-size="13.3" fill="#686868" textLength="55" lengthAdjust="spacingAndGlyphs">high wave</text>
<text x="356.6" y="42" font-family="&quot;Liberation Sans&quot;, sans-serif" font-size="13.3" fill="#686868" textLength="50" lengthAdjust="spacingAndGlyphs">engulfing</text>
<text x="267.2" y="57.6" font-family="&quot;Liberation Sans&quot;, sans-serif" font-size="13.3" fill="#686868" textLength="69" lengthAdjust="spacingAndGlyphs">evening star</text>
<text x="474" y="66.8" font-family="&quot;Liberation Sans&quot;, sans-serif" font-size="13.3" fill="#686868" textLength="38.5" lengthAdjust="spacingAndGlyphs">harami</text>
<text x="478" y="86.6" font-family="&quot;Liberation Sans&quot;, sans-serif" font-size="13.3" fill="#686868" textLength="101.5" lengthAdjust="spacingAndGlyphs">three black crows</text>
<text x="232" y="91" font-family="&quot;Liberation Sans&quot;, sans-serif" font-size="13.3" fill="#686868" textLength="73" lengthAdjust="spacingAndGlyphs">hanging man</text>
<text x="160.9" y="104" font-family="&quot;Liberation Sans&quot;, sans-serif" font-size="13.3" fill="#686868" textLength="73.4" lengthAdjust="spacingAndGlyphs">shooting star</text>
<text x="334.7" y="159.6" font-family="&quot;Liberation Sans&quot;, sans-serif" font-size="13.3" fill="#686868" textLength="37.3" lengthAdjust="spacingAndGlyphs">harami</text>
<text x="59.5" y="171" font-family="&quot;Liberation Sans&quot;, sans-serif" font-size="13.3" fill="#686868" textLength="83" lengthAdjust="spacingAndGlyphs">three methods</text>
<text x="285" y="178" font-family="&quot;Liberation Sans&quot;, sans-serif" font-size="13.3" fill="#686868" textLength="110.5" lengthAdjust="spacingAndGlyphs">three white soldiers</text>
<text x="467.8" y="181" font-family="&quot;Liberation Sans&quot;, sans-serif" font-size="13.3" fill="#686868" textLength="19" lengthAdjust="spacingAndGlyphs">doji</text>
<text x="457" y="194" font-family="&quot;Liberation Sans&quot;, sans-serif" font-size="13.3" fill="#686868" textLength="55.6" lengthAdjust="spacingAndGlyphs">high wave</text>
<text x="406.7" y="206.8" font-family="&quot;Liberation Sans&quot;, sans-serif" font-size="13.3" fill="#686868" textLength="46" lengthAdjust="spacingAndGlyphs">hammer</text>
<text x="176" y="215.4" font-family="&quot;Liberation Sans&quot;, sans-serif" font-size="13.3" fill="#686868" textLength="51" lengthAdjust="spacingAndGlyphs">engulfing</text>
<text x="226.4" y="242.5" font-family="&quot;Liberation Sans&quot;, sans-serif" font-size="13.3" fill="#686868" textLength="38.2" lengthAdjust="spacingAndGlyphs">harami</text>
<text x="269.2" y="240.5" font-family="&quot;Liberation Sans&quot;, sans-serif" font-size="13.3" fill="#686868" textLength="55.8" lengthAdjust="spacingAndGlyphs">high wave</text>
<text x="82" y="341" font-family="&quot;Liberation Sans&quot;, sans-serif" font-size="13.3" fill="#686868" textLength="38.5" lengthAdjust="spacingAndGlyphs">harami</text>
<text x="54" y="367" font-family="&quot;Liberation Sans&quot;, sans-serif" font-size="13.3" fill="#686868" textLength="46.6" lengthAdjust="spacingAndGlyphs">hammer</text>
<text x="506" y="27" font-family="&quot;Liberation Sans&quot;, sans-serif" font-size="14" fill="#708090" textLength="46" lengthAdjust="spacingAndGlyphs">Window</text>
<text x="502.5" y="314" font-family="&quot;Liberation Sans&quot;, sans-serif" font-size="14" fill="#daa520" textLength="45" lengthAdjust="spacingAndGlyphs">Window</text>
<text x="506.5" y="373.3" font-family="&quot;Liberation Sans&quot;, sans-serif" font-size="14" fill="#708090" textLength="45" lengthAdjust="spacingAndGlyphs">Window</text>
<rect x="0" y="2" width="602" height="1" fill="#000"/>
<rect x="0" y="2" width="1" height="385" fill="#000"/>
<rect x="601" y="2" width="1" height="385" fill="#000"/>
<rect x="0" y="386" width="602" height="1" fill="#000"/>
<polygon points="3.5,8.8 11.2,8.8 7.35,13.3" fill="#000"/>
<text x="16" y="14.3" font-family="&quot;Liberation Sans&quot;, sans-serif" font-size="9.3" fill="#000" textLength="61.6" lengthAdjust="spacingAndGlyphs">USDJPY.m,H4</text>
<text x="84.5" y="14.3" font-family="&quot;Liberation Sans&quot;, sans-serif" font-size="9.3" fill="#000" textLength="140" lengthAdjust="spacingAndGlyphs">110.135 110.151 110.080 110.111</text>
<rect x="601" y="20" width="3" height="1" fill="#000"/>
<text x="607" y="24" font-family="&quot;Liberation Sans&quot;, sans-serif" font-size="9.4" fill="#000" textLength="33" lengthAdjust="spacingAndGlyphs">111.055</text>
<rect x="601" y="53" width="3" height="1" fill="#000"/>
<text x="607" y="57" font-family="&quot;Liberation Sans&quot;, sans-serif" font-size="9.4" fill="#000" textLength="33" lengthAdjust="spacingAndGlyphs">110.765</text>
<rect x="601" y="86" width="3" height="1" fill="#000"/>
<text x="607" y="90" font-family="&quot;Liberation Sans&quot;, sans-serif" font-size="9.4" fill="#000" textLength="33" lengthAdjust="spacingAndGlyphs">110.480</text>
<rect x="601" y="119" width="3" height="1" fill="#000"/>
<text x="607" y="123" font-family="&quot;Liberation Sans&quot;, sans-serif" font-size="9.4" fill="#000" textLength="33" lengthAdjust="spacingAndGlyphs">110.190</text>
<rect x="601" y="152" width="3" height="1" fill="#000"/>
<text x="607" y="156" font-family="&quot;Liberation Sans&quot;, sans-serif" font-size="9.4" fill="#000" textLength="33" lengthAdjust="spacingAndGlyphs">109.905</text>
<rect x="601" y="185" width="3" height="1" fill="#000"/>
<text x="607" y="189" font-family="&quot;Liberation Sans&quot;, sans-serif" font-size="9.4" fill="#000" textLength="33" lengthAdjust="spacingAndGlyphs">109.615</text>
<rect x="601" y="218" width="3" height="1" fill="#000"/>
<text x="607" y="222" font-family="&quot;Liberation Sans&quot;, sans-serif" font-size="9.4" fill="#000" textLength="33" lengthAdjust="spacingAndGlyphs">109.330</text>
<rect x="601" y="251" width="3" height="1" fill="#000"/>
<text x="607" y="255" font-family="&quot;Liberation Sans&quot;, sans-serif" font-size="9.4" fill="#000" textLength="33" lengthAdjust="spacingAndGlyphs">109.040</text>
<rect x="601" y="284" width="3" height="1" fill="#000"/>
<text x="607" y="288" font-family="&quot;Liberation Sans&quot;, sans-serif" font-size="9.4" fill="#000" textLength="33" lengthAdjust="spacingAndGlyphs">108.755</text>
<rect x="601" y="317" width="3" height="1" fill="#000"/>
<text x="607" y="321" font-family="&quot;Liberation Sans&quot;, sans-serif" font-size="9.4" fill="#000" textLength="33" lengthAdjust="spacingAndGlyphs">108.465</text>
<rect x="601" y="350" width="3" height="1" fill="#000"/>
<text x="607" y="354" font-family="&quot;Liberation Sans&quot;, sans-serif" font-size="9.4" fill="#000" textLength="33" lengthAdjust="spacingAndGlyphs">108.180</text>
<rect x="601" y="383" width="3" height="1" fill="#000"/>
<text x="607" y="387" font-family="&quot;Liberation Sans&quot;, sans-serif" font-size="9.4" fill="#000" textLength="33" lengthAdjust="spacingAndGlyphs">107.890</text>
<rect x="603" y="100" width="41" height="11" fill="#b03434"/>
<text x="607.5" y="109" font-family="&quot;Liberation Sans&quot;, sans-serif" font-size="9.6" fill="#fff" textLength="32.5" lengthAdjust="spacingAndGlyphs">110.304</text>
<rect x="603" y="123" width="41" height="11" fill="#000000"/>
<text x="607.5" y="132" font-family="&quot;Liberation Sans&quot;, sans-serif" font-size="9.6" fill="#fff" textLength="32.5" lengthAdjust="spacingAndGlyphs">110.111</text>
<rect x="603" y="183" width="41" height="11" fill="#008000"/>
<text x="607.5" y="192" font-family="&quot;Liberation Sans&quot;, sans-serif" font-size="9.6" fill="#fff" textLength="32.5" lengthAdjust="spacingAndGlyphs">109.583</text>
<rect x="1" y="387" width="1" height="4" fill="#000"/>
<text x="0.5" y="399" font-family="&quot;Liberation Sans&quot;, sans-serif" font-size="9.4" fill="#000" textLength="54" lengthAdjust="spacingAndGlyphs">24 May 2018</text>
<rect x="65" y="387" width="1" height="4" fill="#000"/>
<text x="64" y="399" font-family="&quot;Liberation Sans&quot;, sans-serif" font-size="9.4" fill="#000" textLength="58" lengthAdjust="spacingAndGlyphs">29 May 12:00</text>
<rect x="129" y="387" width="1" height="4" fill="#000"/>
<text x="128.5" y="399" font-family="&quot;Liberation Sans&quot;, sans-serif" font-size="9.4" fill="#000" textLength="47.5" lengthAdjust="spacingAndGlyphs">1 Jun 04:00</text>
<rect x="193" y="387" width="1" height="4" fill="#000"/>
<text x="192" y="399" font-family="&quot;Liberation Sans&quot;, sans-serif" font-size="9.4" fill="#000" textLength="48" lengthAdjust="spacingAndGlyphs">5 Jun 20:00</text>
<rect x="257" y="387" width="1" height="4" fill="#000"/>
<text x="256" y="399" font-family="&quot;Liberation Sans&quot;, sans-serif" font-size="9.4" fill="#000" textLength="47" lengthAdjust="spacingAndGlyphs">8 Jun 12:00</text>
<rect x="321" y="387" width="1" height="4" fill="#000"/>
<text x="320.7" y="399" font-family="&quot;Liberation Sans&quot;, sans-serif" font-size="9.4" fill="#000" textLength="52" lengthAdjust="spacingAndGlyphs">13 Jun 04:00</text>
<rect x="385" y="387" width="1" height="4" fill="#000"/>
<text x="385" y="399" font-family="&quot;Liberation Sans&quot;, sans-serif" font-size="9.4" fill="#000" textLength="51.6" lengthAdjust="spacingAndGlyphs">15 Jun 20:00</text>
<rect x="449" y="387" width="1" height="4" fill="#000"/>
<text x="448.5" y="399" font-family="&quot;Liberation Sans&quot;, sans-serif" font-size="9.4" fill="#000" textLength="52" lengthAdjust="spacingAndGlyphs">20 Jun 12:00</text>
</svg></body></html>
